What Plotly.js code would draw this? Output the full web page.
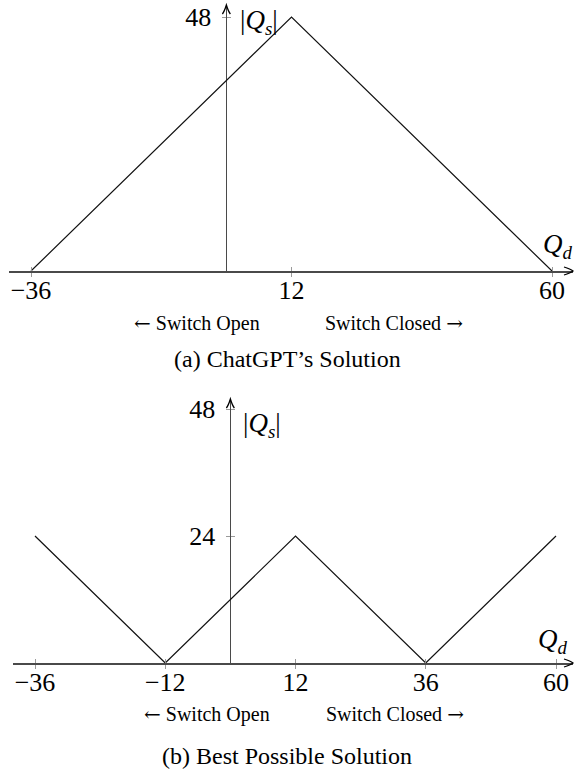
<!DOCTYPE html>
<html>
<head>
<meta charset="utf-8">
<script src="https://cdn.plot.ly/plotly-3.0.1.min.js"></script>
<style>
  html, body { margin: 0; padding: 0; background: #fff; }
  #chart { width: 574px; height: 777px; }
</style>
</head>
<body>
<div id="chart"></div>
<script>
// --- datos ---
// (a) ChatGPT's solution
const qdA = [-36, 12, 60];
const qsA = [0, 48, 0];
// (b) best possible solution
const qdB = [-36, -12, 12, 36, 60];
const qsB = [24, 0, 24, 0, 24];
// ticks
const xTicksA = [-36, 12, 60];
const xTicksB = [-36, -12, 12, 36, 60];
const yTicksA = [48];
const yTicksB = [24, 48];
const captions = ["(a) ChatGPT’s Solution", "(b) Best Possible Solution"];
const ARROW = s => "<span style=\"font-family:'DejaVu Serif'\">" + s + "</span>";
const openText = ARROW("←") + " Switch Open";
const closedText = "Switch Closed " + ARROW("→");

// --- helpers ---
const W = 574, H = 777;
const px = v => v / W;
const py = v => 1 - v / H;
const SERIF = "Liberation Serif, 'DejaVu Serif', serif";
const AXIS = '#4a4a4a';
const TICK = '#9a9a9a';
const label = v => String(v).replace('-', '\u2212');

// geometria de cada panel en pixeles
const panels = [
  {left: 9,  right: 573, x0: 31, x1: 552, base: 271, top: 5,   unit: 5.29,
   open: [132, 323], closed: [323, 323], cap: 359, qs: [238, 22], qd: [541, 246]},
  {left: 13, right: 573, x0: 35, x1: 556, base: 663, top: 399, unit: 5.29,
   open: [142, 714], closed: [324, 714], cap: 756, qs: [241, 425], qd: [536, 641]}
];

const layout = {
  width: W, height: H,
  margin: {l: 0, r: 0, t: 0, b: 0},
  paper_bgcolor: '#fff', plot_bgcolor: 'rgba(0,0,0,0)',
  showlegend: false,
  font: {family: SERIF, color: '#000'},
  annotations: [],
  shapes: []
};

const data = [];
const series = [[qdA, qsA], [qdB, qsB]];
const xTicks = [xTicksA, xTicksB];
const yTicks = [yTicksA, yTicksB];

// punta de flecha como trazo en coordenadas de papel (pixeles)
function arrowHead(tx, ty, dir) {
  const L = 9, Wd = 4;
  let a, b;
  if (dir === 'right') { a = [tx - L, ty - Wd]; b = [tx - L, ty + Wd]; }
  else { a = [tx - Wd, ty + L]; b = [tx + Wd, ty + L]; }
  const P = q => px(q[0]).toFixed(5) + ',' + py(q[1]).toFixed(5);
  return {
    type: 'path', xref: 'paper', yref: 'paper',
    path: 'M' + P(a) + ' Q' + P([(a[0] + tx) / 2 + (dir === 'right' ? 2 : 0), (a[1] + ty) / 2 + (dir === 'right' ? 0 : 2)]) + ' ' + P([tx, ty]) +
          ' Q' + P([(b[0] + tx) / 2 + (dir === 'right' ? 2 : 0), (b[1] + ty) / 2 + (dir === 'right' ? 0 : 2)]) + ' ' + P(b),
    line: {color: '#000', width: 1.3}
  };
}

panels.forEach((p, i) => {
  const n = i + 1;
  const sfx = n === 1 ? '' : String(n);
  const ovx = 'xaxis' + (n + 2), ovy = 'yaxis' + (n + 2);
  const scale = (p.x1 - p.x0) / 96;
  const xr = [-36 - (p.x0 - p.left) / scale, 60 + (p.right - p.x1) / scale];
  const yr = [0, (p.base - p.top) / p.unit];
  const xdom = [px(p.left), px(p.right)];
  const ydom = [py(p.base), py(p.top)];
  const yAxisPx = p.x0 + 36 * scale;
  const ypos = px(yAxisPx);

  const xBase = {
    range: xr, domain: xdom, fixedrange: true, showgrid: false,
    tickmode: 'array', tickvals: xTicks[i], ticktext: xTicks[i].map(label),
    ticklen: 4, tickwidth: 1, tickcolor: TICK
  };
  const yBase = {
    range: yr, domain: ydom, fixedrange: true, showgrid: false,
    anchor: 'free', position: ypos, side: 'left',
    tickmode: 'array', tickvals: yTicks[i], ticktext: yTicks[i].map(label),
    ticklen: 4, tickwidth: 1, tickcolor: TICK
  };

  layout['xaxis' + sfx] = Object.assign({}, xBase, {
    anchor: 'y' + sfx, ticks: 'outside',
    showline: true, linecolor: AXIS, linewidth: 1.6,
    zeroline: true, zerolinecolor: AXIS, zerolinewidth: 1.6,
    tickfont: {family: SERIF, size: 26, color: '#000'},
    ticklabelstandoff: -9
  });
  layout['yaxis' + sfx] = Object.assign({}, yBase, {
    ticks: 'outside', showline: false, zeroline: false,
    tickfont: {family: SERIF, size: 26, color: '#000'},
    ticklabelstandoff: 6
  });
  // ticks que cruzan el eje
  layout[ovx] = Object.assign({}, xBase, {
    anchor: 'y' + sfx, overlaying: 'x' + sfx, ticks: 'inside',
    showticklabels: false, showline: false, zeroline: false
  });
  layout[ovy] = Object.assign({}, yBase, {
    overlaying: 'y' + sfx, ticks: 'inside',
    showticklabels: false, showline: false, zeroline: false
  });

  data.push({
    x: series[i][0], y: series[i][1],
    xaxis: 'x' + sfx, yaxis: 'y' + sfx,
    type: 'scatter', mode: 'lines', cliponaxis: false,
    line: {color: '#111', width: 1.2},
    hoverinfo: 'skip'
  });
  data.push({x: [], y: [], xaxis: 'x' + (n + 2), yaxis: 'y' + sfx, type: 'scatter'});
  data.push({x: [], y: [], xaxis: 'x' + sfx, yaxis: 'y' + (n + 2), type: 'scatter'});

  layout.shapes.push(arrowHead(p.right, p.base, 'right'));
  layout.shapes.push(arrowHead(yAxisPx, p.top, 'up'));

  const A = layout.annotations;
  // etiquetas de ejes
  A.push({xref: 'paper', yref: 'paper', x: px(p.qs[0]), y: py(p.qs[1]), xanchor: 'left', yanchor: 'middle',
          showarrow: false, text: '|<i>Q</i><sub><i>s</i></sub>|', font: {family: SERIF, size: 27}});
  A.push({xref: 'paper', yref: 'paper', x: px(p.qd[0]), y: py(p.qd[1]), xanchor: 'left', yanchor: 'middle',
          showarrow: false, text: '<i>Q</i><sub><i>d</i></sub>', font: {family: SERIF, size: 27}});
  // switch
  A.push({xref: 'paper', yref: 'paper', x: px(p.open[0]), y: py(p.open[1]), xanchor: 'left', yanchor: 'middle',
          showarrow: false, text: openText, font: {family: SERIF, size: 20}});
  A.push({xref: 'paper', yref: 'paper', x: px(p.closed[0]), y: py(p.closed[1]), xanchor: 'left', yanchor: 'middle',
          showarrow: false, text: closedText, font: {family: SERIF, size: 20}});
  // caption
  A.push({xref: 'paper', yref: 'paper', x: px(287), y: py(p.cap), xanchor: 'center', yanchor: 'middle',
          showarrow: false, text: captions[i], font: {family: SERIF, size: 24}});
});

Plotly.newPlot('chart', data, layout, {staticPlot: true, displayModeBar: false});
</script>
</body>
</html>
